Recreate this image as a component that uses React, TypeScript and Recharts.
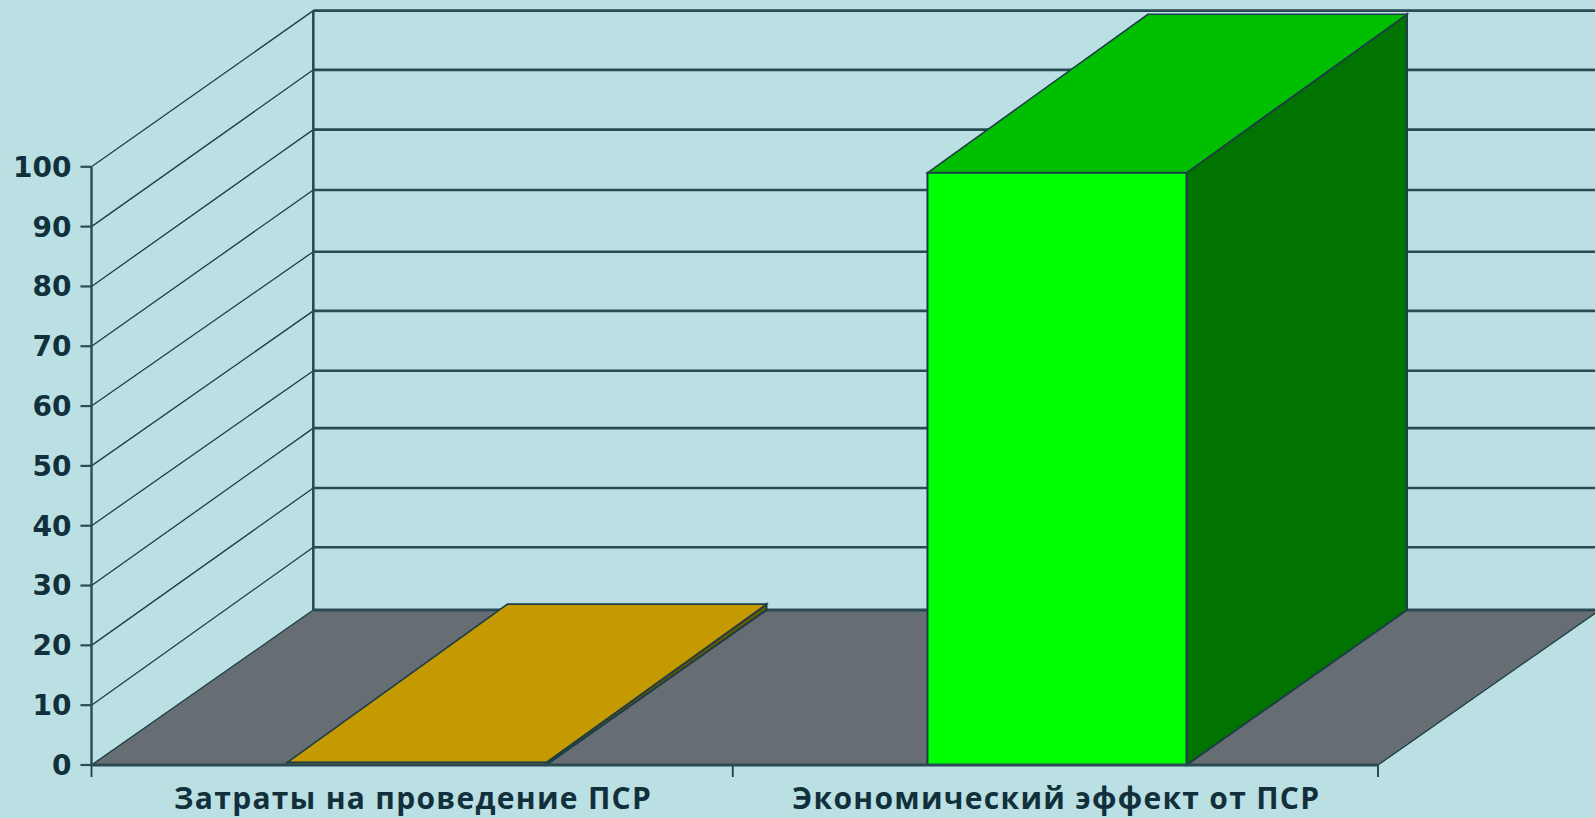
import React from "react";
import { BarChart, Bar, XAxis, YAxis, usePlotArea } from "recharts";

const categories = ["Затраты на проведение ПСР", "Экономический эффект от ПСР"];
const values = [0.4, 99];
const yTicks = [0, 10, 20, 30, 40, 50, 60, 70, 80, 90, 100];
const backGridLevels = [0, 10.5, 20.4, 30.4, 40, 50, 59.9, 70.2, 80.3, 90.3, 100.2];
const frontColors = ["#c49a00", "#00ff00"];
const topColors = ["#c49a00", "#00bf00"];
const sideColors = ["#6a5600", "#007300"];

const data = categories.map((name, i) => ({ name, value: values[i] }));

const BG = "#bae0e3";
const INK = "#1d3d47";
const GRID = "#2b4a55";
const TEXT = "#12303c";
const FLOOR = "#666e73";
const DX = 221.8;
const DY = 155;
const BAR_DX = 220.5;
const BAR_TOP_DY = 158.5;
const BAR_SHIFTS = [3.5, 0.7];
const W = 1595;
const H = 818;

function Walls() {
  const plot = usePlotArea();
  if (!plot) return null;
  const left = plot.x;
  const right = plot.x + plot.width;
  const bottom = plot.y + plot.height;
  const yOf = (v: number) => bottom - (plot.height * v) / 100;
  const backX = left + DX;
  const backBottom = bottom - DY;
  const backTop = yOf(backGridLevels[backGridLevels.length - 1]) - DY;
  return (
    <g>
      <polygon
        points={`${left},${bottom} ${backX},${backBottom} ${right + DX},${backBottom} ${right},${bottom}`}
        fill={FLOOR}
      />
      {yTicks.map((t, i) => {
        const backY = yOf(backGridLevels[i]) - DY;
        return (
          <g key={t}>
            <line x1={left} y1={yOf(t)} x2={backX} y2={backY} stroke={INK} strokeWidth={1.3} />
            <line x1={backX} y1={backY} x2={W} y2={backY} stroke={GRID} strokeWidth={t === 0 ? 3 : 2.6} />
          </g>
        );
      })}
      <line x1={backX} y1={backTop} x2={backX} y2={backBottom} stroke={GRID} strokeWidth={2.6} />
      <line x1={right} y1={bottom} x2={right + DX} y2={backBottom} stroke={INK} strokeWidth={1.3} />
      {[0, 0.5, 1].map((f) => (
        <line
          key={f}
          x1={left + f * plot.width - (f === 0.5 ? 2 : 0)}
          y1={bottom}
          x2={left + f * plot.width - (f === 0.5 ? 2 : 0)}
          y2={bottom + 12}
          stroke={INK}
          strokeWidth={1.8}
        />
      ))}
    </g>
  );
}

function Box3D(props: any) {
  const { x, y, width, height, index } = props;
  const x0 = x + BAR_SHIFTS[index];
  const x1 = x0 + width;
  const yb = y + height;
  const stroke = INK;
  return (
    <g>
      <polygon
        points={`${x1},${y} ${x1 + BAR_DX},${y - BAR_TOP_DY} ${x1 + BAR_DX},${yb - DY} ${x1},${yb}`}
        fill={sideColors[index]}
        stroke={stroke}
        strokeWidth={2}
      />
      <polygon
        points={`${x0},${y} ${x0 + BAR_DX},${y - BAR_TOP_DY} ${x1 + BAR_DX},${y - BAR_TOP_DY} ${x1},${y}`}
        fill={topColors[index]}
        stroke={stroke}
        strokeWidth={1.6}
      />
      <rect x={x0} y={y} width={width} height={height} fill={frontColors[index]} stroke={stroke} strokeWidth={2} />
    </g>
  );
}

export default function App() {
  return (
    <div style={{ position: "fixed", left: 0, top: 0, width: W, height: H, background: BG, overflow: "hidden" }}>
      <BarChart
        width={W}
        height={H}
        data={data}
        margin={{ top: 166.8, right: 217, bottom: 0, left: 0 }}
        barSize={259}
      >
        <Walls />
        <XAxis
          dataKey="name"
          height={53}
          tickLine={false}
          axisLine={{ stroke: GRID, strokeWidth: 3 }}
          tickMargin={17}
          interval={0}
          tick={{ fill: TEXT, fontSize: 30, fontWeight: 700, fontFamily: "Open Sans", letterSpacing: 1.3 }}
        />
        <YAxis
          width={91.5}
          domain={[0, 100]}
          ticks={yTicks}
          interval={0}
          tickSize={11}
          tickMargin={9}
          axisLine={{ stroke: GRID, strokeWidth: 2.4 }}
          tickLine={{ stroke: GRID, strokeWidth: 2.2 }}
          tick={{ fill: TEXT, fontSize: 28, fontWeight: 700, fontFamily: "DejaVu Sans" }}
        />
        <Bar dataKey="value" isAnimationActive={false} shape={Box3D} />
      </BarChart>
    </div>
  );
}
